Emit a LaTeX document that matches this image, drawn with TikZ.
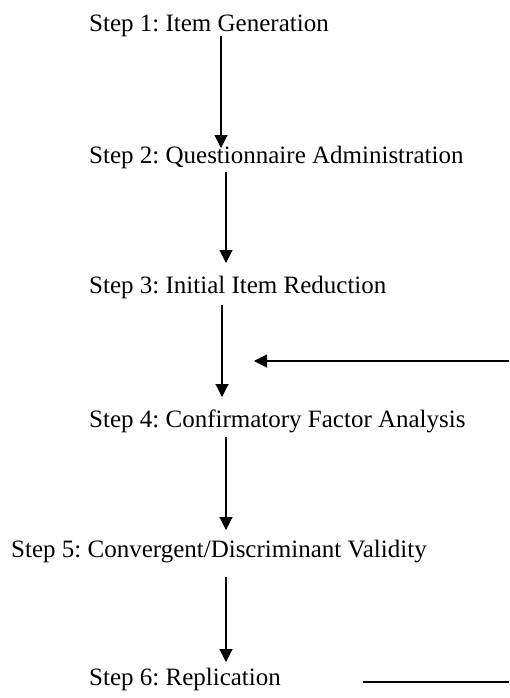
\documentclass[tikz,border=0pt]{standalone}
\usepackage{fontspec}
\setmainfont{Liberation Serif}
\usetikzlibrary{arrows.meta}
\begin{document}
\frenchspacing
\begin{tikzpicture}[x=1pt,y=-1pt,
  stepnode/.style={anchor=base west,inner sep=0pt,font=\fontsize{25}{29}\selectfont},
  arr/.style={line width=1.1pt,-{Triangle[length=13pt,width=13pt]}},
  ln/.style={line width=1.1pt}]
\useasboundingbox (0,0) rectangle (509,698);
\node[stepnode] (s1) at (89,32) {Step 1: Item Generation};
\node[stepnode] (s2) at (89,163) {Step 2: Questionnaire Administration};
\node[stepnode] (s3) at (89,293) {Step 3: Initial Item Reduction};
\node[stepnode] (s4) at (89,427) {Step 4: Confirmatory Factor Analysis};
\node[stepnode] (s5) at (11,557) {Step 5: Convergent/Discriminant Validity};
\node[stepnode] (s6) at (89,685) {Step 6: Replication};
\coordinate (a1s) at (221,36);  \coordinate (a1e) at (221,148);
\coordinate (a2s) at (226,172); \coordinate (a2e) at (226,263);
\coordinate (a3s) at (222,305); \coordinate (a3e) at (222,397);
\coordinate (a4s) at (226,437); \coordinate (a4e) at (226,530);
\coordinate (a5s) at (226,577); \coordinate (a5e) at (226,662);
\coordinate (r1) at (509,361);  \coordinate (r1t) at (254,361);
\coordinate (r2a) at (363,682); \coordinate (r2b) at (509,682);
\draw[arr] (a1s) -- (a1e);
\draw[arr] (a2s) -- (a2e);
\draw[arr] (a3s) -- (a3e);
\draw[arr] (a4s) -- (a4e);
\draw[arr] (a5s) -- (a5e);
\draw[arr] (r1) -- (r1t);
\draw[ln] (r2a) -- (r2b);
\end{tikzpicture}
\end{document}
